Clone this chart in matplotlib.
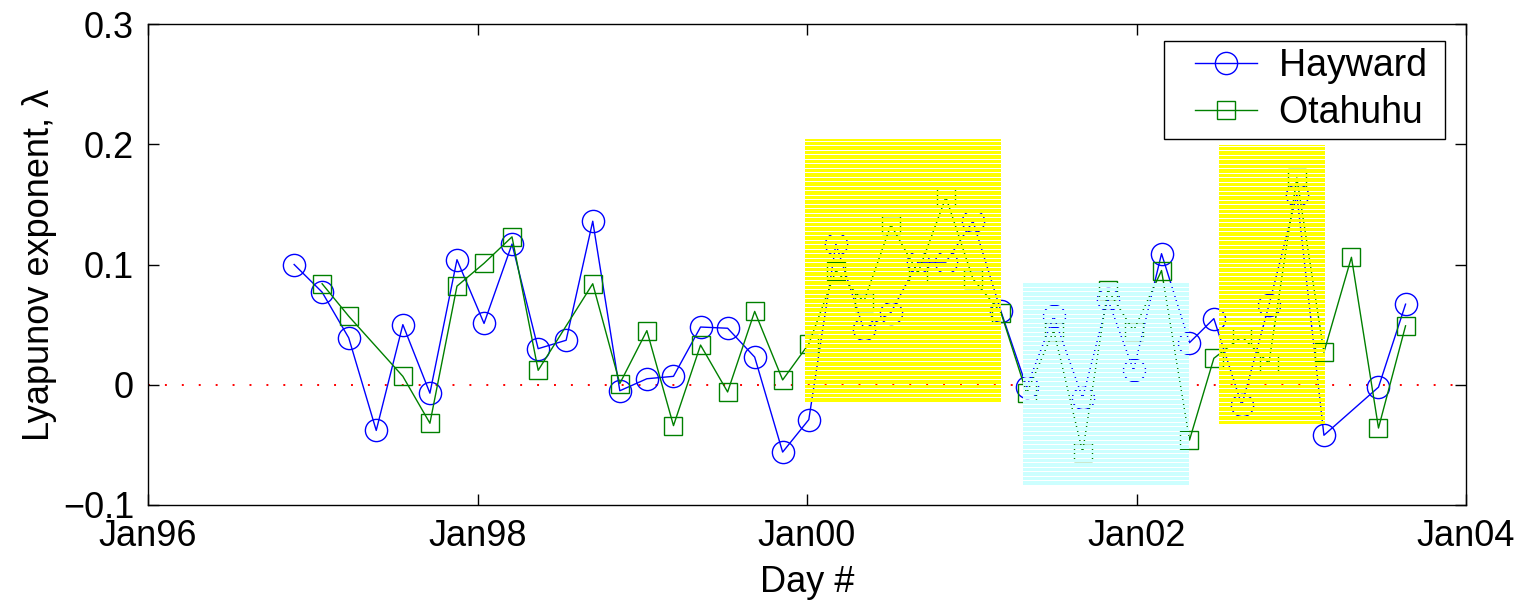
import numpy as np
import matplotlib
matplotlib.use("Agg")
import matplotlib.pyplot as plt
import matplotlib.dates as mdates
from matplotlib.patches import Rectangle
from matplotlib.lines import Line2D
from matplotlib.legend_handler import HandlerLine2D

plt.rcParams['font.family'] = ['Liberation Sans', 'DejaVu Sans']

# ---- data ----
hayward_dates = ["1996-11-20", "1997-01-21", "1997-03-21", "1997-05-21", "1997-07-19",
                 "1997-09-17", "1997-11-16", "1998-01-15", "1998-03-18", "1998-05-15",
                 "1998-07-16", "1998-09-13", "1998-11-12", "1999-01-11", "1999-03-11",
                 "1999-05-10", "1999-07-09", "1999-09-07", "1999-11-08", "2000-01-05",
                 "2000-03-05", "2000-05-06", "2000-07-05", "2000-09-03", "2000-11-04",
                 "2001-01-03", "2001-03-06", "2001-05-02", "2001-07-01", "2001-09-03",
                 "2001-10-29", "2001-12-25", "2002-02-25", "2002-04-28", "2002-06-21",
                 "2002-08-22", "2002-10-21", "2002-12-22", "2003-02-20", "2003-06-21",
                 "2003-08-20"]
hayward_vals = [0.100, 0.077, 0.039, -0.038, 0.050,
                -0.007, 0.104, 0.051, 0.117, 0.030,
                0.037, 0.136, -0.005, 0.005, 0.007,
                0.048, 0.047, 0.023, -0.056, -0.029,
                0.117, 0.046, 0.060, 0.102, 0.102,
                0.136, 0.061, -0.002, 0.057, -0.011,
                0.071, 0.012, 0.109, 0.035, 0.055,
                -0.017, 0.066, 0.158, -0.042, -0.002,
                0.067]

otahuhu_dates = ["1997-01-21", "1997-03-21", "1997-07-19", "1997-09-17", "1997-11-16",
                 "1998-01-15", "1998-03-18", "1998-05-15", "1998-09-13", "1998-11-12",
                 "1999-01-11", "1999-03-11", "1999-05-10", "1999-07-09", "1999-09-07",
                 "1999-11-08", "2000-01-05", "2000-03-05", "2000-05-06", "2000-07-05",
                 "2000-09-03", "2000-11-04", "2001-01-03", "2001-03-06", "2001-05-02",
                 "2001-07-01", "2001-09-03", "2001-10-29", "2001-12-25", "2002-02-25",
                 "2002-04-28", "2002-06-21", "2002-08-22", "2002-10-21", "2002-12-22",
                 "2003-02-20", "2003-04-22", "2003-06-21", "2003-08-20"]
otahuhu_vals = [0.084, 0.057, 0.007, -0.032, 0.082,
                0.101, 0.123, 0.012, 0.084, 0.001,
                0.045, -0.034, 0.033, -0.006, 0.061,
                0.004, 0.034, 0.095, 0.069, 0.133,
                0.093, 0.156, 0.088, 0.060, -0.007,
                0.045, -0.056, 0.079, 0.045, 0.095,
                -0.046, 0.022, 0.040, 0.018, 0.172,
                0.027, 0.106, -0.036, 0.049]

# shaded periods
shade_starts = ["1999-12-28", "2001-04-23", "2002-07-02"]
shade_ends = ["2001-03-06", "2002-04-27", "2003-02-23"]
shade_lows = [-0.014, -0.083, -0.033]
shade_highs = [0.2045, 0.0856, 0.199]
shade_colors = ["#ffff00", "#ccffff", "#ffff00"]

xtick_dates = ["1996-01-01", "1998-01-01", "2000-01-01", "2002-01-01", "2004-01-01"]
yticks = [-0.1, 0.0, 0.1, 0.2, 0.3]
ytick_labels = ['\u22120.1', '0', '0.1', '0.2', '0.3']

# ---- plot ----
fig = plt.figure(figsize=(15.25, 6.08), dpi=100)
ax = fig.add_axes([148/1525, 103/608, 1318/1525, 481/608])

def to_num(lst):
    return mdates.date2num(np.array(lst, dtype='datetime64[D]'))

hx = to_num(hayward_dates)
ox = to_num(otahuhu_dates)

ax.plot(hx, hayward_vals, color='#0000ff', lw=1.0, marker='o', ms=16,
        mfc='none', mec='#0000ff', mew=1.0, label='Hayward', zorder=2)
ax.plot(ox, otahuhu_vals, color='#008000', lw=1.0, marker='s', ms=13,
        mfc='none', mec='#008000', mew=1.0, label='Otahuhu', zorder=2)

xlim = to_num([xtick_dates[0], xtick_dates[-1]])
ax.plot(xlim, [0, 0], color='red', lw=1.4, linestyle=(0, (1, 7.7)), zorder=1.5)

# striped shaded patches drawn on top of the lines
period = 0.00374
bar_h = 0.0029
s0 = to_num(shade_starts)
s1 = to_num(shade_ends)
for a, b, lo, hi, c in zip(s0, s1, shade_lows, shade_highs, shade_colors):
    y = lo
    while y < hi - 1e-9:
        h = min(bar_h, hi - y)
        ax.add_patch(Rectangle((a, y), b - a, h, facecolor=c, edgecolor='none',
                               lw=0, antialiased=False, zorder=3))
        y += period

ax.set_xlim(xlim)
ax.set_ylim(-0.1, 0.3)
ax.set_xticks(to_num(xtick_dates))
ax.xaxis.set_major_formatter(mdates.DateFormatter('%b%y'))
ax.set_yticks(yticks)
ax.set_yticklabels(ytick_labels)
ax.tick_params(direction='in', length=8, width=1, top=True, right=True,
               labelsize=26, pad=10)
for sp in ax.spines.values():
    sp.set_linewidth(1.0)
    sp.set_zorder(5)

ax.set_xlabel('Day #', fontsize=26, labelpad=8)
ax.set_ylabel('Lyapunov exponent, \u03bb', fontsize=26, labelpad=4)

handles, labels = ax.get_legend_handles_labels()
labels = [l + ' ' for l in labels]
leg = ax.legend(handles, labels, loc='upper right', bbox_to_anchor=(0.984, 0.965),
                borderaxespad=0, fontsize=27, fancybox=False, edgecolor='black',
                framealpha=1, handlelength=2.28, handletextpad=0.59, borderpad=0.2,
                labelspacing=0.29, handler_map={Line2D: HandlerLine2D(xpad=0.63)})
leg.get_frame().set_linewidth(1.0)
leg.set_zorder(10)

fig.savefig('out.png', dpi=100)
